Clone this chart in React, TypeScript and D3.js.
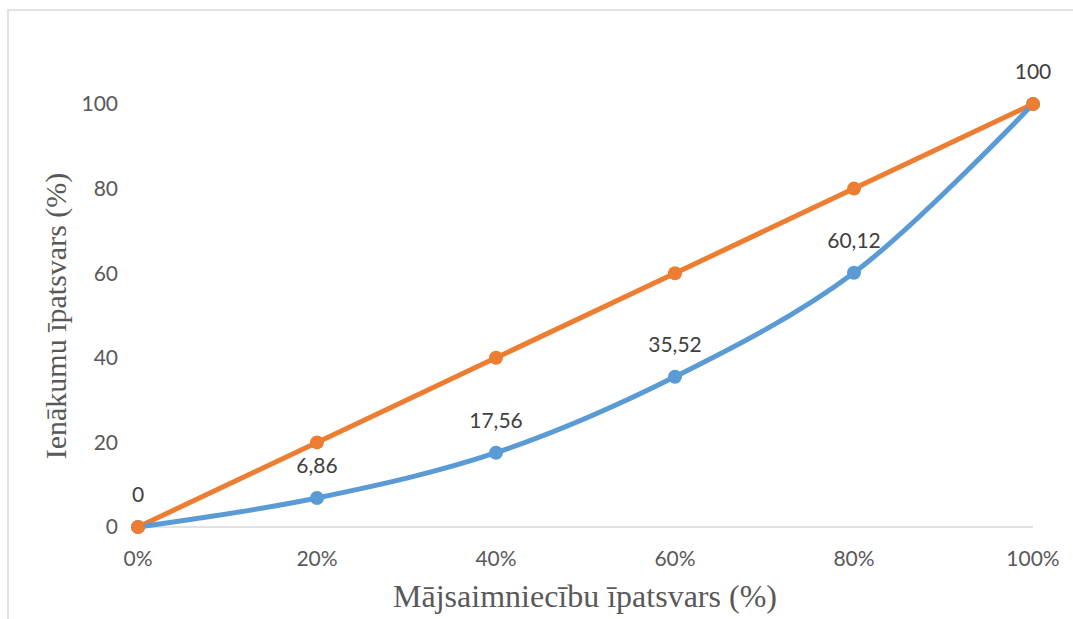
import * as d3 from "d3";

const shares = [0, 20, 40, 60, 80, 100];
const lorenz = [0, 6.86, 17.56, 35.52, 60.12, 100];
const equality = [0, 20, 40, 60, 80, 100];
const lorenzLabels = ["0", "6,86", "17,56", "35,52", "60,12", "100"];
const yTicks = [0, 20, 40, 60, 80, 100];
const xTitle = "Mājsaimniecību īpatsvars (%)";
const yTitle = "Ienākumu īpatsvars (%)";

const W = 1073;
const H = 619;
const BLUE = "#5b9bd5";
const ORANGE = "#ed7d31";
const SANS = "Lato, 'Open Sans', sans-serif";
const SERIF = "'Liberation Serif', 'Times New Roman', 'DejaVu Serif', serif";

export default function App() {
  const x = d3.scaleLinear().domain([0, 100]).range([138, 1033]);
  const y = d3.scaleLinear().domain([0, 100]).range([527, 104]);

  const smooth = d3
    .line<number>()
    .x((_, i) => x(shares[i]))
    .y((d) => y(d))
    .curve(d3.curveCatmullRom.alpha(0.5));

  const straight = d3
    .line<number>()
    .x((_, i) => x(shares[i]))
    .y((d) => y(d));

  const sans = { fontFamily: SANS };
  const serif = { fontFamily: SERIF };

  return (
    <svg
      width={W}
      height={H}
      style={{ position: "absolute", left: 0, top: 0, background: "#fff" }}
    >
      {/* chart frame, cut off on the right and bottom */}
      <rect x={8} y={10} width={W + 20} height={H + 20} fill="#fff" stroke="#d9d9d9" strokeWidth={1.5} />

      {/* x axis line */}
      <line x1={x(0)} x2={x(100)} y1={y(0)} y2={y(0)} stroke="#d9d9d9" strokeWidth={1.5} />

      {yTicks.map((t) => (
        <text
          key={t}
          x={118}
          y={y(t)}
          dy="0.35em"
          textAnchor="end"
          style={sans}
          fontSize={21}
          fill="#595959"
        >
          {t}
        </text>
      ))}

      {shares.map((s) => (
        <text
          key={s}
          x={x(s)}
          y={y(0) + 32}
          dy="0.35em"
          textAnchor="middle"
          style={sans}
          fontSize={21}
          fill="#595959"
        >
          {s}%
        </text>
      ))}

      <path d={straight(equality) ?? ""} fill="none" stroke={ORANGE} strokeWidth={5} strokeLinejoin="round" />
      <path d={smooth(lorenz) ?? ""} fill="none" stroke={BLUE} strokeWidth={5} strokeLinejoin="round" />

      {lorenz.map((v, i) => (
        <circle key={"b" + i} cx={x(shares[i])} cy={y(v)} r={7} fill={BLUE} />
      ))}
      {equality.map((v, i) => (
        <circle key={"o" + i} cx={x(shares[i])} cy={y(v)} r={7} fill={ORANGE} />
      ))}

      {lorenz.map((v, i) => (
        <text
          key={"l" + i}
          x={x(shares[i])}
          y={y(v) - 32}
          dy="0.35em"
          textAnchor="middle"
          style={sans}
          fontSize={21}
          fill="#404040"
        >
          {lorenzLabels[i]}
        </text>
      ))}

      <text x={585} y={607} textAnchor="middle" style={serif} fontSize={32} fill="#595959">
        {xTitle}
      </text>
      <text
        transform={`translate(66,316) rotate(-90)`}
        textAnchor="middle"
        style={serif}
        fontSize={30}
        fill="#595959"
      >
        {yTitle}
      </text>
    </svg>
  );
}
